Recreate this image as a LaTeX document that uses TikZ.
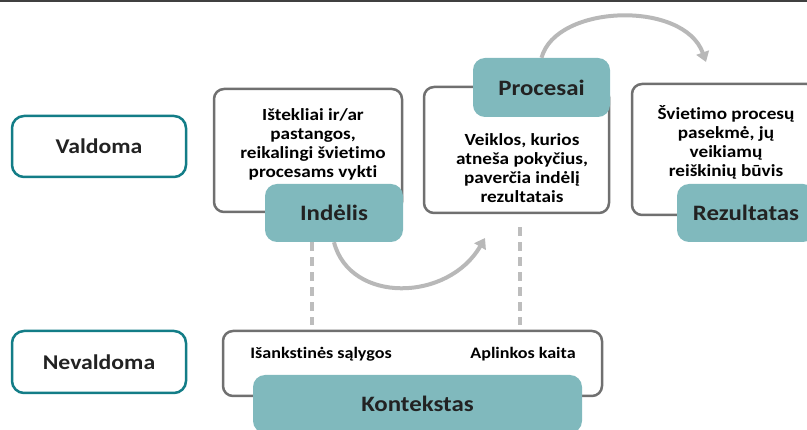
\documentclass[tikz,border=0pt]{standalone}
\usepackage{fontspec}
\setmainfont{Carlito}[FakeStretch=1.13, Ligatures=NoCommon]
\usetikzlibrary{arrows.meta}
\definecolor{tealfill}{HTML}{80B9BD}
\definecolor{tealline}{HTML}{137D87}
\definecolor{boxline}{HTML}{707070}
\definecolor{arrowgray}{HTML}{B8B8B8}
\definecolor{dashgray}{HTML}{BDBDBD}
\definecolor{txt}{HTML}{222222}
\tikzset{
  catbox/.style={draw=tealline, line width=2.5pt, rounded corners=12pt, fill=white, text=txt, font=\fontsize{21}{24}\selectfont\bfseries},
  graybox/.style={draw=boxline, line width=2.5pt, rounded corners=10pt, fill=white},
  tealbox/.style={fill=tealfill, rounded corners=12pt, text=txt, font=\fontsize{22}{25}\selectfont\bfseries},
  bodytext/.style={align=center, text=black, font=\fontsize{17}{19}\selectfont\bfseries},
  smalltext/.style={text=black, font=\fontsize{16}{18}\selectfont\bfseries},
  dashline/.style={draw=dashgray, line width=4.5pt, dash pattern=on 9pt off 6pt},
  bigarrow/.style={draw=arrowgray, line width=4pt, -{Triangle[length=10pt,width=13pt]}},
}
\begin{document}
\begin{tikzpicture}[x=1pt,y=-1pt]
\useasboundingbox (0,0) rectangle (807,430);
\clip (0,0) rectangle (807,430);
% top rule
\coordinate (tl) at (0,1);
\coordinate (tr) at (807,1);
\draw[color=black!75, line width=2pt] (tl) -- (tr);
% category boxes
\node[catbox, minimum width=174pt, minimum height=61pt] (vald) at (99,146.5) {Valdoma};
\node[catbox, minimum width=174pt, minimum height=62pt] (nevald) at (99,362) {Nevaldoma};
% gray boxes
\node[graybox, minimum width=188pt, minimum height=123pt] (inbox) at (308,150.5) {};
\node[graybox, minimum width=185pt, minimum height=126pt] (procbox) at (516.5,150) {};
\node[graybox, minimum width=185pt, minimum height=131pt] (rezbox) at (724.5,149.5) {};
\node[graybox, minimum width=379pt, minimum height=65pt] (ctxbox) at (412.5,363.5) {};
% texts
\node[bodytext] (intext) at (313,144) {Ištekliai ir/ar\\pastangos,\\reikalingi švietimo\\procesams vykti};
\node[bodytext] (proctext) at (522,168) {Veiklos, kurios\\atneša pokyčius,\\paverčia indėlį\\rezultatais};
\node[bodytext] (reztext) at (726,142) {Švietimo procesų\\pasekmė, jų\\veikiamų\\reiškinių būvis};
\node[smalltext] (ctx1) at (321,354) {Išankstinės sąlygos};
\node[smalltext] (ctx2) at (523,354) {Aplinkos kaita};
% dashed links
\coordinate (d1) at (312,0);
\coordinate (d2) at (520,0);
% teal labels
\node[tealbox, minimum width=138pt, minimum height=58pt] (ind) at (334,213) {Indėlis};
\node[tealbox, minimum width=137pt, minimum height=59pt] (proc) at (541.5,87.5) {Procesai};
\node[tealbox, minimum width=138pt, minimum height=58pt] (rez) at (746,213) {Rezultatas};
\node[tealbox, minimum width=329pt, minimum height=58pt] (ctx) at (417.5,404) {Kontekstas};
\draw[dashline] (ind.south -| d1) -- ([yshift=5pt]ctxbox.north -| d1);
\draw[dashline] ([yshift=-13pt]procbox.south -| d2) -- ([yshift=5pt]ctxbox.north -| d2);
% arrows
\coordinate (a1end) at (485,238);
\coordinate (a2end) at (706,62);
\draw[bigarrow] (ind.south) .. controls (350,304) and (448,302) .. (a1end);
\draw[bigarrow] (proc.north) .. controls (556,4) and (684,0) .. (a2end);
\end{tikzpicture}
\end{document}
